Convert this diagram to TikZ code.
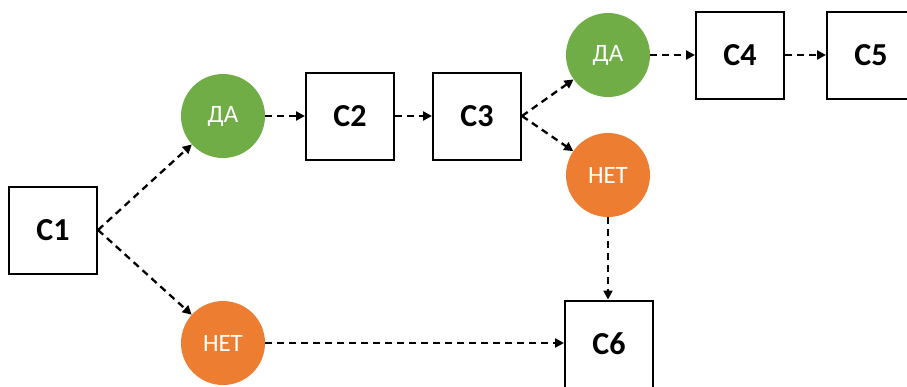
\documentclass[tikz,border=0pt]{standalone}
\usepackage{fontspec}
\setmainfont{Carlito}
\usetikzlibrary{arrows.meta}
\definecolor{yesgreen}{HTML}{70AD47}
\definecolor{noorange}{HTML}{ED7D31}
\begin{document}
\begin{tikzpicture}[x=1pt,y=-1pt,
  box/.style={draw=black, line width=2pt, fill=white, minimum width=88pt, minimum height=87pt, inner sep=0pt, font=\fontsize{32}{32}\selectfont\bfseries},
  yes/.style={circle, fill=yesgreen, minimum size=84pt, inner sep=0pt, text=white, font=\fontsize{25}{25}\selectfont},
  no/.style={circle, fill=noorange, minimum size=84pt, inner sep=0pt, text=white, font=\fontsize{25}{25}\selectfont},
  conn/.style={draw=black, line width=2.3pt, dash pattern=on 7pt off 5pt, -{Triangle[length=9pt,width=9pt]}}
]
\useasboundingbox (0,0) rectangle (907,386);
\clip (0,0) rectangle (907,386);
\node[box] (c1) at (53,230) {C1};
\node[yes] (da1) at (223,116) {ДА};
\node[no] (net1) at (223,343) {НЕТ};
\node[box] (c2) at (350,116) {C2};
\node[box] (c3) at (477,116) {C3};
\node[yes] (da2) at (608,55) {ДА};
\node[no] (net2) at (608,175) {НЕТ};
\node[box] (c4) at (740,55) {C4};
\node[box] (c5) at (871,55) {C5};
\node[box] (c6) at (609,344) {C6};
\draw[conn] (c1.east) -- (da1);
\draw[conn] (c1.east) -- (net1);
\draw[conn] (da1) -- (c2.west);
\draw[conn] (c2.east) -- (c3.west);
\draw[conn] (c3.east) -- (da2);
\draw[conn] (c3.east) -- (net2);
\draw[conn] (da2) -- (c4.west);
\draw[conn] (c4.east) -- (c5.west);
\draw[conn] (net2) -- (net2 |- c6.north);
\draw[conn] (net1) -- (net1 -| c6.west);
\end{tikzpicture}
\end{document}
